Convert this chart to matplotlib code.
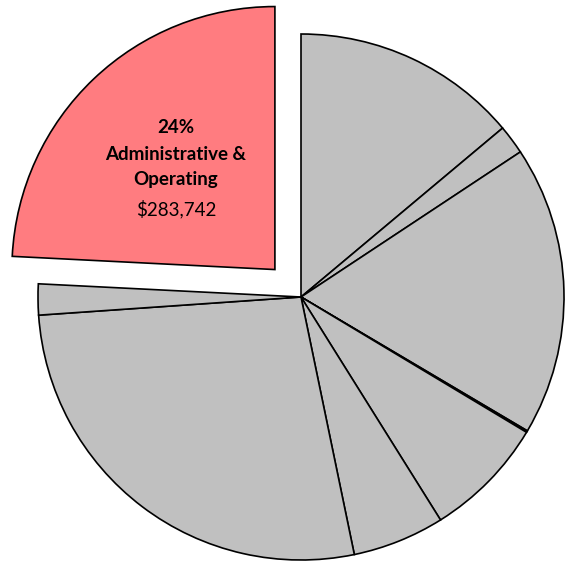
import matplotlib
matplotlib.use("Agg")
import matplotlib.pyplot as plt

# Budget shares (percent), clockwise from 12 o'clock
labels = ["A", "B", "C", "D", "E", "F", "G", "H", "Administrative & Operating"]
shares = [13.9, 1.8, 17.8, 0.1, 7.5, 5.65, 27.15, 1.9, 24.2]
highlight = "Administrative & Operating"
highlight_pct = "24%"
highlight_amount = "$283,742"

grey = "#C0C0C0"
red = "#FF7C80"

colors = [red if lb == highlight else grey for lb in labels]
explode = [0.144 if lb == highlight else 0 for lb in labels]

fig = plt.figure(figsize=(5.66, 5.63), dpi=100)
ax = fig.add_axes([0, 0, 1, 1])

ax.pie(shares, colors=colors, explode=explode, startangle=90,
       counterclock=False,
       wedgeprops=dict(edgecolor="black", linewidth=1.2))

ax.set_aspect("auto")
ax.set_xlim(-1.1445, 1.0076)
ax.set_ylim(-1.0114, 1.1293)
ax.axis("off")

font = ["Lato", "DejaVu Sans"]
ax.text(-0.475, 0.645, highlight_pct, ha="center", va="center",
        fontsize=13.5, fontweight="bold", family=font)
ax.text(-0.475, 0.54, "Administrative &", ha="center", va="center",
        fontsize=13.5, fontweight="bold", family=font)
ax.text(-0.475, 0.445, "Operating", ha="center", va="center",
        fontsize=13.5, fontweight="bold", family=font)
ax.text(-0.475, 0.335, highlight_amount, ha="center", va="center",
        fontsize=13.5, family=font)

fig.savefig("out.png", dpi=100)
